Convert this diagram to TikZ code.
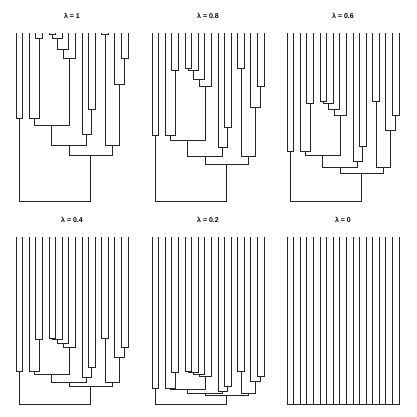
\documentclass[tikz,border=0pt]{standalone}
\usepackage{fontspec}
\newfontfamily\rsans{Liberation Sans}
\usetikzlibrary{positioning}

% one tree of the panel grid: #1 name, #2 left x, #3 top y, #4 lambda
\newcommand{\lamtree}[4]{%
  \begin{scope}[shift={(#2,#3)}]
    \def\lam{#4}
    \node[ttl] (#1-ttl) at (56,-17) {λ = #4};
    \foreach \i in {0,...,17}
      \coordinate (#1-\i) at ({\i*112/17},0);
    \foreach \nn/\nx/\nd in {r/5.9258/0, n01/0.5/0.489, n217/11.3516/0.274,
        n212/8.0781/0.332, n1317/14.625/0.334, n29/5.4063/0.453,
        n1012/10.75/0.398, n234/2.75/0.489, n34/3.5/0.970,
        n59/8.0625/0.851, n58/7.125/0.905, n57/6.25/0.970,
        n56/5.5/0.990, n1112/11.5/0.547, n1314/13.5/0.990,
        n1517/15.75/0.696, n1617/16.5/0.851}
      \coordinate (#1-\nn) at ({\nx*112/17},{168*(1-\lam*\nd)});
    \foreach \p/\c in {r/n01, r/n217, n01/0, n01/1,
        n217/n212, n217/n1317, n212/n29, n212/n1012,
        n29/n234, n29/n59, n234/2, n234/n34, n34/3, n34/4,
        n59/n58, n59/9, n58/n57, n58/8, n57/n56, n57/7, n56/5, n56/6,
        n1012/10, n1012/n1112, n1112/11, n1112/12,
        n1317/n1314, n1317/n1517, n1314/13, n1314/14,
        n1517/15, n1517/n1617, n1617/16, n1617/17}
      \draw[branch] (#1-\p) -| (#1-\c);
  \end{scope}}

\begin{document}
\begin{tikzpicture}[x=1pt, y=-1pt,
  ttl/.style={font=\rsans\bfseries\fontsize{7}{8}\selectfont},
  branch/.style={draw=black!85, line width=0.7pt}
]
  \useasboundingbox (0,0) rectangle (416,417);
  % top row
  \lamtree{ta}{16}{33}{1}
  \lamtree{tb}{152}{33}{0.8}
  \lamtree{tc}{287}{33}{0.6}
  % bottom row
  \lamtree{td}{16}{236.5}{0.4}
  \lamtree{te}{152}{236.5}{0.2}
  \lamtree{tf}{287}{236.5}{0}
\end{tikzpicture}
\end{document}
